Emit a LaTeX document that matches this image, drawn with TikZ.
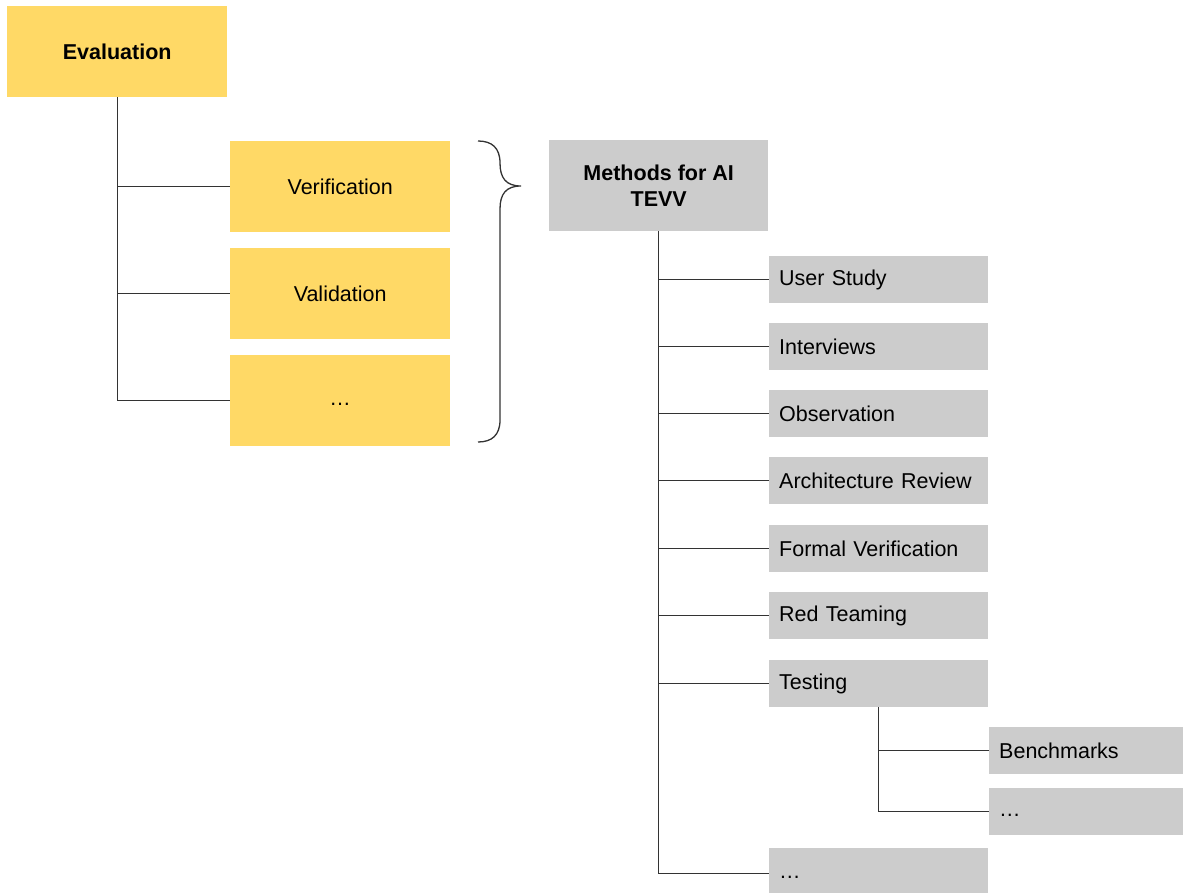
\documentclass[tikz,border=0pt]{standalone}
\usepackage{fontspec}
\setmainfont{Liberation Sans}
\definecolor{ylw}{HTML}{FFD966}
\definecolor{gry}{HTML}{CCCCCC}
\definecolor{ln}{HTML}{333333}
\newcommand{\dotsph}{\vphantom{Vg}…}
\begin{document}
\begin{tikzpicture}[x=1pt,y=-1pt,
  every node/.style={font=\fontsize{21.5}{26}\selectfont},
  ybox/.style={fill=ylw,draw=none,minimum width=220pt,minimum height=91pt,inner sep=0pt,anchor=north west},
  gbig/.style={fill=gry,draw=none,minimum width=219pt,minimum height=91pt,inner sep=0pt,anchor=north west,align=center},
  gbox/.style={fill=gry,draw=none,text width=199pt,inner xsep=10pt,inner ysep=0pt,minimum height=47pt,align=left,anchor=north west},
  conn/.style={draw=ln,line width=1.3pt}]
\useasboundingbox (0,0) rectangle (1183,893);
% left tree
\node[ybox,font=\fontsize{21.5}{26}\selectfont\bfseries] (eval) at (7,6) {Evaluation};
\node[ybox] (ver) at (230,141) {Verification};
\node[ybox] (val) at (230,248) {Validation};
\node[ybox] (etc1) at (230,355) {\dotsph};
\draw[conn] (eval.south) |- (ver.west);
\draw[conn] (eval.south) |- (val.west);
\draw[conn] (eval.south) |- (etc1.west);
% brace
\coordinate (btop) at (478,141);
\coordinate (btip) at (521,186);
\coordinate (bbot) at (478,442);
\draw[draw=ln,line width=1.3pt] (btop) .. controls (492,141) and (500,148) .. (500,163)
  .. controls (500,178) and (506,186) .. (btip)
  .. controls (506,186) and (500,194) .. (500,209)
  -- (500,420) .. controls (500,435) and (492,442) .. (bbot);
% right tree
\node[gbig,font=\fontsize{21.5}{26}\selectfont\bfseries] (meth) at (549,140) {Methods for AI\\TEVV};
\node[gbox] (us) at (769,256) {User Study};
\node[gbox] (iv) at (769,323) {Interviews};
\node[gbox] (ob) at (769,390) {Observation};
\node[gbox] (ar) at (769,457) {Architecture Review};
\node[gbox] (fv) at (769,525) {Formal Verification};
\node[gbox] (rt) at (769,592) {Red Teaming};
\node[gbox] (te) at (769,660) {Testing};
\node[gbox,minimum height=50pt] (etc2) at (769,848) {\dotsph};
\node[gbox,text width=184pt] (bm) at (989,727) {Benchmarks};
\node[gbox,text width=184pt] (etc3) at (989,788) {\dotsph};
\foreach \n in {us,iv,ob,ar,fv,rt,te,etc2}
  \draw[conn] (meth.south) |- (\n.west);
\draw[conn] (te.south) |- (bm.west);
\draw[conn] (te.south) |- (etc3.west);
\end{tikzpicture}
\end{document}
